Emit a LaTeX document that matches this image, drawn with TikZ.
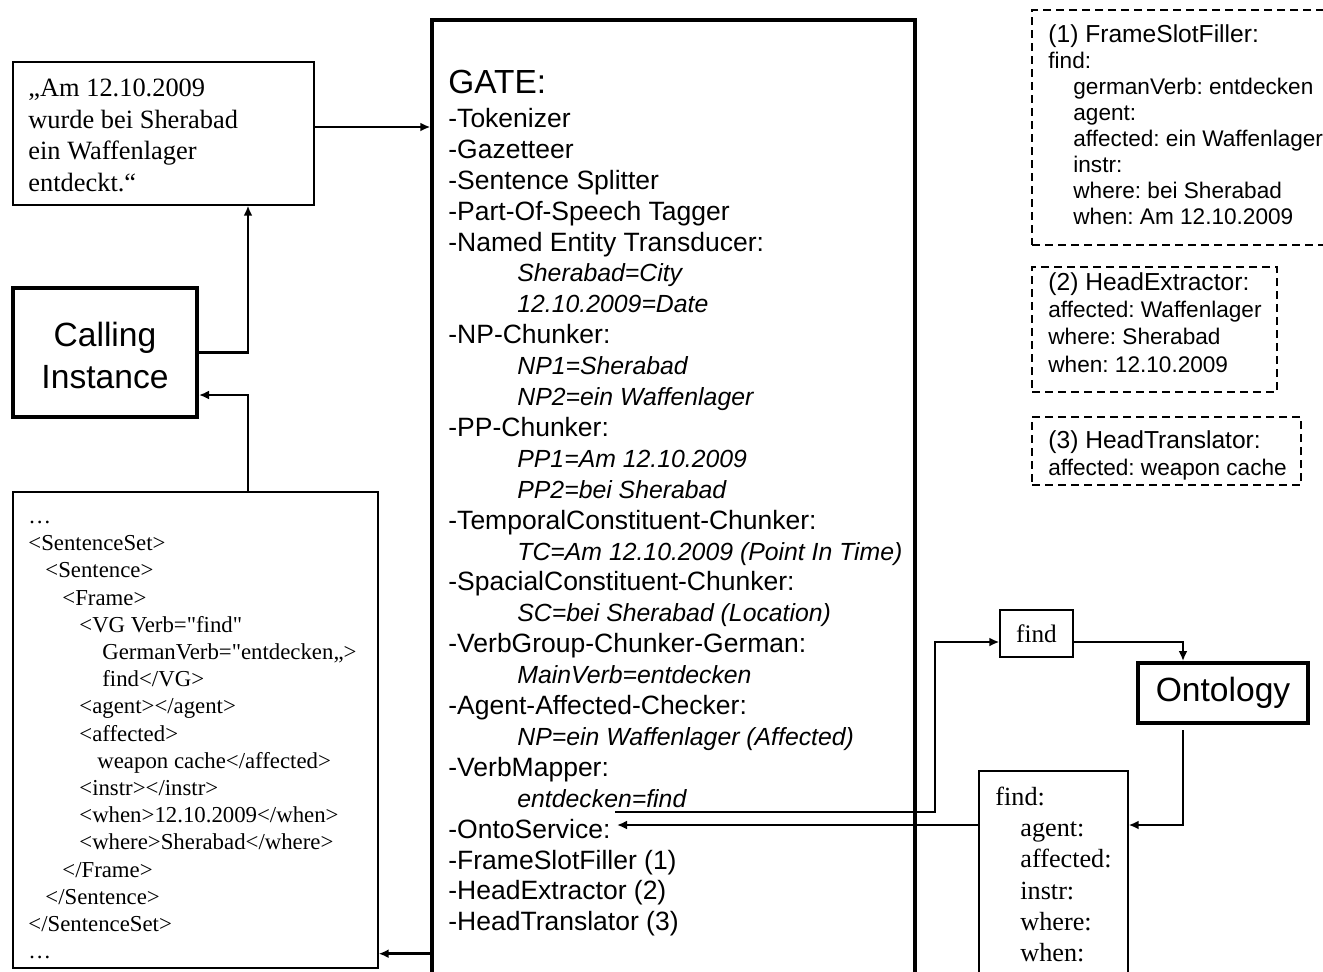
\documentclass[tikz,border=0pt]{standalone}
\usepackage{fontspec}
\setmainfont{Liberation Serif}[Ligatures=TeXOff]
\setsansfont{Liberation Sans}
\usetikzlibrary{arrows.meta,fit}

\newcommand\gatesub[1]{\hspace*{34.5pt}{\fontsize{12.4}{15.45}\selectfont\itshape #1}}
\newcommand\xmlind[1]{\hspace*{#1}}

\begin{document}
\frenchspacing
\begin{tikzpicture}[x=0.5pt,y=-0.5pt,
    >={Latex[length=5pt,width=4.5pt]},
    box/.style={draw,line width=0.7pt,inner sep=0pt},
    heavybox/.style={draw,line width=2pt,inner sep=0pt},
    dashbox/.style={draw,line width=0.8pt,dash pattern=on 4pt off 2.5pt,inner sep=0pt},
    txt/.style={anchor=north west,inner sep=0pt,align=left},
    bigtxt/.style={inner sep=0pt,align=center,font=\sffamily\fontsize{16.8}{21}\selectfont},
    conn/.style={->,line width=1.3pt}]
\useasboundingbox (0,0) rectangle (1323,971);
\clip (0,0) rectangle (1323,971);

% boxes
\node[box,fit={(13,62) (314,205)}] (sent) {};
\node[heavybox,fit={(13,288) (197,417)}] (call) {};
\node[box,fit={(13,492) (378,968)}] (xml) {};
\node[heavybox,line width=1.7pt,fit={(432,20) (915,1000)}] (gate) {};
\node[dashbox,fit={(1032,10) (1340,245)}] (fsf) {};
\node[dashbox,fit={(1032,267) (1277,392)}] (hext) {};
\node[dashbox,fit={(1032,417) (1301,485)}] (htrans) {};
\node[box,fit={(1000,610) (1073,657)}] (find) {};
\node[heavybox,fit={(1138,663) (1308,723)}] (onto) {};
\node[box,fit={(979,771) (1128,1000)}] (res) {};

% texts
\node[bigtxt] (calltxt) at ([yshift=-1.5pt]call.center) {Calling\\Instance};
\node[bigtxt] (ontotxt) at (onto.center) {Ontology};
\node[inner sep=0pt,font=\fontsize{12.6}{15}\selectfont] (findtxt) at (find.center) {find};
\node[txt,font=\fontsize{13.2}{15.8}\selectfont] (senttxt) at (28,74)
  {\strut„Am 12.10.2009\\wurde bei Sherabad\\ein Waffenlager\\entdeckt.“};
\node[txt,font=\fontsize{11.4}{13.6}\selectfont] (xmltxt) at (28,504)
  {\strut…\\
   <SentenceSet>\\
   \xmlind{8.5pt}<Sentence>\\
   \xmlind{17pt}<Frame>\\
   \xmlind{25.5pt}<VG Verb="find"\\
   \xmlind{37pt}GermanVerb="entdecken„>\\
   \xmlind{37pt}find</VG>\\
   \xmlind{25.5pt}<agent></agent>\\
   \xmlind{25.5pt}<affected>\\
   \xmlind{34.5pt}weapon cache</affected>\\
   \xmlind{25.5pt}<instr></instr>\\
   \xmlind{25.5pt}<when>12.10.2009</when>\\
   \xmlind{25.5pt}<where>Sherabad</where>\\
   \xmlind{17pt}</Frame>\\
   \xmlind{8.5pt}</Sentence>\\
   </SentenceSet>\\
   …};
\node[anchor=base west,inner sep=0pt,font=\sffamily\fontsize{16.7}{20}\selectfont]
  (gatetitle) at (448,93) {GATE:};
\node[txt,font=\sffamily\fontsize{13.25}{15.45}\selectfont] (gatelist) at (448,105.4)
  {\strut-Tokenizer\\
   -Gazetteer\\
   -Sentence Splitter\\
   -Part-Of-Speech Tagger\\
   -Named Entity Transducer:\\
   \gatesub{Sherabad=City}\\
   \gatesub{12.10.2009=Date}\\
   -NP-Chunker:\\
   \gatesub{NP1=Sherabad}\\
   \gatesub{NP2=ein Waffenlager}\\
   -PP-Chunker:\\
   \gatesub{PP1=Am 12.10.2009}\\
   \gatesub{PP2=bei Sherabad}\\
   -TemporalConstituent-Chunker:\\
   \gatesub{TC=Am 12.10.2009 (Point In Time)}\\
   -SpacialConstituent-Chunker:\\
   \gatesub{SC=bei Sherabad (Location)}\\
   -VerbGroup-Chunker-German:\\
   \gatesub{MainVerb=entdecken}\\
   -Agent-Affected-Checker:\\
   \gatesub{NP=ein Waffenlager (Affected)}\\
   -VerbMapper:\\
   \gatesub{entdecken=find}\\
   -OntoService:\\
   -FrameSlotFiller (1)\\
   -HeadExtractor (2)\\
   -HeadTranslator (3)};
\node[txt,font=\sffamily\fontsize{11.3}{13}\selectfont] (fsftxt) at (1048,23.8)
  {\strut{\fontsize{12.3}{13}\selectfont (1) FrameSlotFiller:}\\
   find:\\
   \hspace*{12.5pt}germanVerb: entdecken\\
   \hspace*{12.5pt}agent:\\
   \hspace*{12.5pt}affected: ein Waffenlager\\
   \hspace*{12.5pt}instr:\\
   \hspace*{12.5pt}where: bei Sherabad\\
   \hspace*{12.5pt}when: Am 12.10.2009};
\node[txt,font=\sffamily\fontsize{11.3}{13.6}\selectfont] (hexttxt) at (1048,271)
  {\strut{\fontsize{12.3}{13.6}\selectfont (2) HeadExtractor:}\\
   affected: Waffenlager\\
   where: Sherabad\\
   when: 12.10.2009};
\node[txt,font=\sffamily\fontsize{11.3}{13.6}\selectfont] (htranstxt) at (1048,429)
  {\strut{\fontsize{12.3}{13.6}\selectfont (3) HeadTranslator:}\\
   affected: weapon cache};
\node[txt,font=\fontsize{13.1}{15.6}\selectfont] (restxt) at (995,783.2)
  {\strut find:\\
   \hspace*{12.5pt}agent:\\
   \hspace*{12.5pt}affected:\\
   \hspace*{12.5pt}instr:\\
   \hspace*{12.5pt}where:\\
   \hspace*{12.5pt}when:};

% connectors
\coordinate (vline) at (248,0);
\coordinate (jog) at (935,0);
\coordinate (ontoline) at (1183,0);
\coordinate (ontoout) at (615,812);
\coordinate (ontoin) at (617,825);
\coordinate (findin) at ([yshift=-4.25pt]find.west);
\coordinate (findout) at ([yshift=-4.25pt]find.east);
\coordinate (xmlin) at ([yshift=7.5pt]xml.south east);
\coordinate (sentout) at ([yshift=3.25pt]sent.east);
\coordinate (callin) at ([yshift=-21.25pt]call.east);
\path (onto.south -| ontoline) ++(0,5) coordinate (ontobot);

\draw[conn] (sentout) -- (sentout -| gate.west);
\draw[conn] (call.east) -| (vline |- sent.south);
\draw[conn] (vline |- xml.north) |- (callin);
\draw[conn] (gate.west |- xmlin) -- (xmlin);
\draw[conn] (ontoout) -| (jog |- findin) -- (findin);
\draw[conn] (findout) -| (ontoline |- onto.north);
\draw[conn] (ontobot) |- (res.east |- ontoin);
\draw[conn] (res.west |- ontoin) -- (ontoin);
\end{tikzpicture}
\end{document}
